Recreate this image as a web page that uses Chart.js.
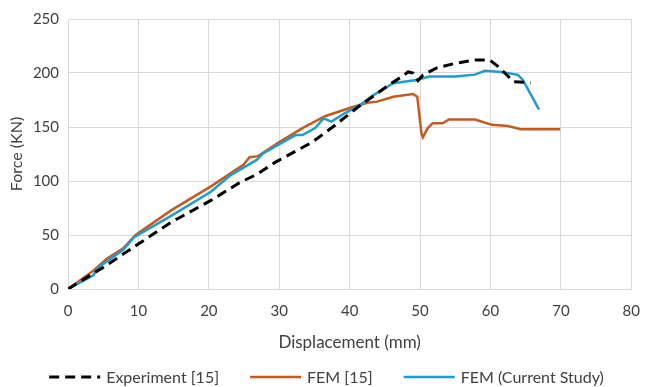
<!DOCTYPE html>
<html>
<head>
<meta charset="utf-8">
<script src="https://cdn.jsdelivr.net/npm/chart.js@4/dist/chart.umd.min.js"></script>
<style>
html,body{margin:0;padding:0;background:#fff;}
#wrap{width:653px;height:387px;}
</style>
</head>
<body>
<div id="wrap"><canvas id="c" width="653" height="387"></canvas></div>
<script>
// ---- data ----
const seriesNames = ['Experiment [15]', 'FEM [15]', 'FEM (Current Study)'];

const expX = [0, 2, 5, 9.6, 14.7, 20.3, 24.5, 26.8, 29.6, 34.7, 37.4, 41.1, 45.8, 47.5, 48.3, 49.0, 49.7, 50.4, 52.3, 55.0, 57.8, 59.9, 61.1, 62.5, 63.2, 65.7];
const expY = [0, 8, 20, 40, 62, 82, 99, 106, 118, 136, 149, 168, 190, 197, 201, 200, 193, 198, 204.5, 209, 212, 212, 206, 197, 192, 191];

const femX = [0, 3.6, 5.5, 7.8, 9.6, 14.7, 20.3, 24.9, 25.8, 27.0, 30.0, 33.3, 36.5, 40.2, 42.5, 43.9, 46.2, 49.0, 49.6, 50.2, 50.4, 51.1, 51.8, 53.2, 54.1, 57.8, 60.2, 62.5, 64.3, 69.9];
const femY = [0, 17, 28, 37.5, 50, 73, 95, 115, 122, 123, 136, 149, 160, 168, 172.5, 173.5, 178, 180.5, 178, 144, 140.5, 149, 153.5, 153.5, 157, 157, 152, 151, 148, 148];

const curX = [0, 3.6, 4.3, 7.8, 9.4, 14.7, 20.3, 23.1, 26.8, 27.7, 32.3, 33.3, 35.1, 36.3, 37.4, 39.3, 41.6, 43.5, 46.2, 49.5, 51.3, 55.0, 57.8, 59.2, 61.5, 63.9, 64.6, 66.9];
const curY = [0, 12.7, 20, 36, 48, 68, 90, 105.5, 119.5, 125.5, 142.5, 142.5, 149, 158, 155, 162.7, 171, 180, 190.5, 193.6, 196.7, 196.7, 198.5, 202, 201, 198.3, 193.6, 166];

const xTicks = [0, 10, 20, 30, 40, 50, 60, 70, 80];
const yTicks = [0, 50, 100, 150, 200, 250];

const toPts = (xs, ys) => xs.map((x, i) => ({x: x, y: ys[i]}));

const FONT = 'Lato, "Open Sans", sans-serif';
const TXT = '#404040';
const GRID = '#D9D9D9';

const legendPlugin = {
  id: 'customLegend',
  afterDraw(chart) {
    const ctx = chart.ctx;
    const ds = chart.data.datasets;
    ctx.save();
    ctx.font = '16px ' + FONT;
    const lineW = 51, gapText = 6, gapItem = 31;
    const widths = ds.map(d => ctx.measureText(d.label).width);
    let total = 0;
    widths.forEach((w, i) => { total += lineW + gapText + w + (i < ds.length - 1 ? gapItem : 0); });
    let x = (chart.width - total) / 2;
    const y = 377;
    ds.forEach((d, i) => {
      ctx.beginPath();
      ctx.strokeStyle = d.borderColor;
      ctx.lineWidth = d.borderWidth;
      ctx.setLineDash(d.borderDash || []);
      ctx.moveTo(x, y);
      ctx.lineTo(x + lineW, y);
      ctx.stroke();
      ctx.setLineDash([]);
      ctx.fillStyle = TXT;
      ctx.textBaseline = 'middle';
      ctx.textAlign = 'left';
      ctx.fillText(d.label, x + lineW + gapText, y + 1);
      x += lineW + gapText + widths[i] + gapItem;
    });
    ctx.restore();
  }
};

new Chart(document.getElementById('c'), {
  type: 'line',
  data: {
    datasets: [
      {label: seriesNames[0], data: toPts(expX, expY), borderColor: '#000000', borderWidth: 3, borderDash: [10, 6], pointRadius: 0, tension: 0, fill: false, order: 0},
      {label: seriesNames[1], data: toPts(femX, femY), borderColor: '#C65A1E', borderWidth: 2.5, pointRadius: 0, tension: 0, fill: false, order: 2},
      {label: seriesNames[2], data: toPts(curX, curY), borderColor: '#1F9BD1', borderWidth: 2.5, pointRadius: 0, tension: 0, fill: false, order: 1}
    ]
  },
  options: {
    responsive: false,
    animation: false,
    devicePixelRatio: 1,
    layout: {padding: {left: 0, right: 10, top: 19, bottom: 0}},
    plugins: {legend: {display: false}, tooltip: {enabled: false}},
    scales: {
      x: {
        type: 'linear', min: 0, max: 80,
        afterBuildTicks: s => { s.ticks = xTicks.map(v => ({value: v})); },
        afterFit: s => { s.height = 98; },
        grid: {color: GRID, lineWidth: 1, drawTicks: false},
        border: {color: GRID, width: 1},
        ticks: {color: TXT, font: {family: FONT, size: 15}, padding: 13, maxRotation: 0},
        title: {display: true, text: 'Displacement (mm)', color: TXT, font: {family: FONT, size: 17}, padding: {top: 0, bottom: 34}}
      },
      y: {
        type: 'linear', min: 0, max: 250,
        afterBuildTicks: s => { s.ticks = yTicks.map(v => ({value: v})); },
        afterFit: s => { s.width = 68; },
        grid: {color: GRID, lineWidth: 1, drawTicks: false},
        border: {color: GRID, width: 1},
        ticks: {color: TXT, font: {family: FONT, size: 15}, padding: 9},
        title: {display: true, text: 'Force (KN)', color: TXT, font: {family: FONT, size: 16}, padding: {top: 7, bottom: 0}}
      }
    }
  },
  plugins: [legendPlugin]
});
</script>
</body>
</html>
